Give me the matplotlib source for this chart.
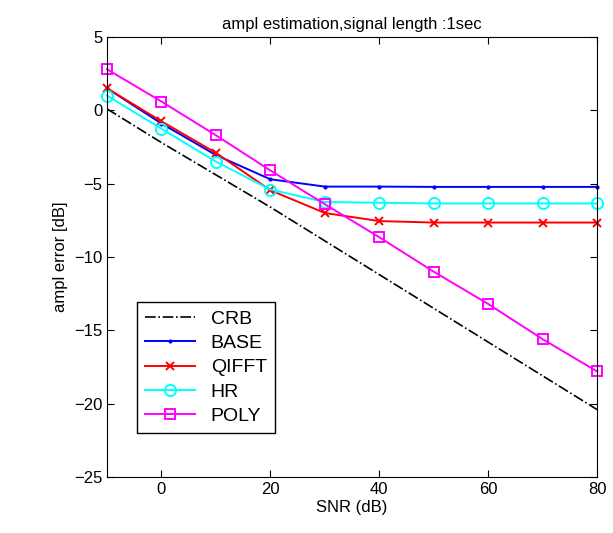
import numpy as np
import matplotlib
matplotlib.use("Agg")
from matplotlib import pyplot as plt

plt.rcParams["font.family"] = ["Liberation Sans", "DejaVu Sans"]

snr = [-10, 0, 10, 20, 30, 40, 50, 60, 70, 80]
crb = [0.1, -2.2, -4.4, -6.6, -8.9, -11.2, -13.5, -15.8, -18.1, -20.4]
base = [1.5, -0.9, -3.05, -4.7, -5.2, -5.2, -5.22, -5.22, -5.22, -5.22]
qifft = [1.5, -0.75, -2.9, -5.45, -7.0, -7.55, -7.65, -7.65, -7.65, -7.65]
hr = [1.0, -1.25, -3.5, -5.4, -6.25, -6.3, -6.35, -6.35, -6.35, -6.35]
poly = [2.8, 0.6, -1.7, -4.1, -6.4, -8.65, -11.0, -13.2, -15.6, -17.8]

fig = plt.figure(figsize=(6.13, 5.33), dpi=100)
ax = fig.add_axes([0.1746, 0.105, 0.7994, 0.8256])

ax.plot(snr, crb, color="k", linestyle="-.", linewidth=1.2, label="CRB")
ax.plot(snr, base, color="#0000ff", marker=".", markersize=4, linewidth=1.4,
        label="BASE", clip_on=False)
ax.plot(snr, qifft, color="#ff0000", marker="x", markersize=6, markeredgewidth=1.4,
        linewidth=1.4, label="QIFFT", clip_on=False)
ax.plot(snr, hr, color="#00ffff", marker="o", markersize=8, markerfacecolor="none",
        markeredgewidth=1.4, linewidth=1.4, label="HR", clip_on=False)
ax.plot(snr, poly, color="#ff00ff", marker="s", markersize=7, markerfacecolor="none",
        markeredgewidth=1.4, linewidth=1.4, label="POLY", clip_on=False)

ax.set_xlim(-10, 80)
ax.set_ylim(-25, 5)
ax.set_xticks([0, 20, 40, 60, 80])
ax.set_yticks([-25, -20, -15, -10, -5, 0, 5])
ax.set_yticklabels(["\u221225", "\u221220", "\u221215", "\u221210", "\u22125", "0", "5"])
ax.tick_params(direction="in", top=True, right=True, labelsize=12, length=5)

ax.set_title("ampl estimation,signal length :1sec", fontsize=12)
ax.set_xlabel("SNR (dB)", fontsize=12, labelpad=2)
ax.set_ylabel("ampl error [dB]", fontsize=12)

leg = ax.legend(loc="lower left", bbox_to_anchor=(0.061, 0.1), fontsize=14,
                fancybox=False, framealpha=1, edgecolor="k", borderaxespad=0,
                handlelength=2.6, labelspacing=0.35)
leg.get_frame().set_linewidth(1.0)

fig.savefig("out.png", dpi=100)
